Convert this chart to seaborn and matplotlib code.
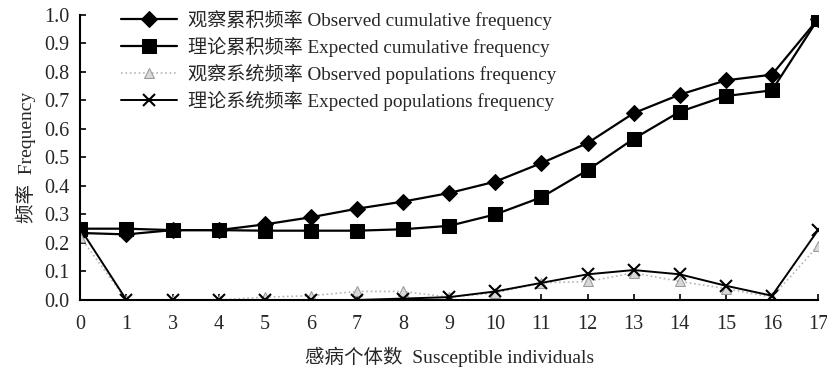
import numpy as np
import pandas as pd
import matplotlib
matplotlib.use("Agg")
from matplotlib import pyplot as plt
import seaborn as sns

# x categories (note: no "2" in the original)
individuals = ["0", "1", "3", "4", "5", "6", "7", "8", "9", "10", "11",
               "12", "13", "14", "15", "16", "17"]
obs_cum = [0.235, 0.23, 0.245, 0.245, 0.265, 0.29, 0.32, 0.345, 0.375, 0.415,
           0.48, 0.55, 0.655, 0.72, 0.77, 0.79, 0.985]
exp_cum = [0.25, 0.25, 0.245, 0.245, 0.243, 0.243, 0.243, 0.248, 0.26, 0.30,
           0.36, 0.455, 0.565, 0.66, 0.715, 0.735, 0.985]
obs_pop = [0.22, 0.0, 0.0, 0.0, 0.01, 0.015, 0.03, 0.03, 0.01, 0.025,
           0.06, 0.065, 0.095, 0.065, 0.04, 0.01, 0.19]
exp_pop = [0.25, 0.0, 0.0, 0.0, 0.0, 0.0, 0.0, 0.005, 0.01, 0.03,
           0.06, 0.09, 0.105, 0.09, 0.05, 0.015, 0.245]

labels = [
    "观察累积频率 Observed cumulative frequency",
    "理论累积频率 Expected cumulative frequency",
    "观察系统频率 Observed populations frequency",
    "理论系统频率 Expected populations frequency",
]

sns.set_style("ticks")
plt.rcParams["font.family"] = ["Liberation Serif", "Noto Sans CJK SC"]
plt.rcParams["xtick.direction"] = "in"
plt.rcParams["ytick.direction"] = "in"

pos = np.arange(len(individuals))
df = pd.DataFrame({"pos": pos, "obs_cum": obs_cum, "exp_cum": exp_cum,
                   "obs_pop": obs_pop, "exp_pop": exp_pop})

fig, ax = plt.subplots(figsize=(8.28, 3.69), dpi=100)
fig.subplots_adjust(left=0.097, right=0.988, top=0.96, bottom=0.187)

sns.lineplot(data=df, x="pos", y="obs_cum", ax=ax, color="black", lw=1.6,
             marker="D", markersize=8, markeredgecolor="black", label=labels[0])
sns.lineplot(data=df, x="pos", y="exp_cum", ax=ax, color="black", lw=1.6,
             marker="s", markersize=10, markeredgecolor="black", label=labels[1])
sns.lineplot(data=df, x="pos", y="obs_pop", ax=ax, color="#b5b5b5", lw=1.2,
             linestyle=":", marker="^", markersize=7, markerfacecolor="#d8d8d8",
             markeredgecolor="#9a9a9a", label=labels[2])
sns.lineplot(data=df, x="pos", y="exp_pop", ax=ax, color="black", lw=1.4,
             marker="x", markersize=9, markeredgewidth=1.5,
             markeredgecolor="black", label=labels[3])

ax.set_xlim(0, len(individuals) - 1)
ax.set_ylim(0, 1.0)
ax.set_xticks(pos)
ax.set_xticklabels(individuals)
ax.set_yticks(np.arange(0, 1.01, 0.1))
ax.set_yticklabels([f"{v:.1f}" for v in np.arange(0, 1.01, 0.1)])
ax.tick_params(labelsize=14.5, length=4, width=1.2, color="black")
ax.tick_params(axis="x", pad=11)
ax.tick_params(axis="y", pad=8)

for side in ["top", "right"]:
    ax.spines[side].set_visible(False)
for side in ["left", "bottom"]:
    ax.spines[side].set_linewidth(1.5)
    ax.spines[side].set_color("black")

ax.set_xlabel("感病个体数  Susceptible individuals", fontsize=14, labelpad=9)
ax.set_ylabel("频率  Frequency", fontsize=14, labelpad=6)

leg = ax.legend(loc="upper left", bbox_to_anchor=(0.045, 1.045), frameon=False,
                fontsize=13.8, handlelength=2.9, handletextpad=0.6,
                labelspacing=0.36, borderaxespad=0)

fig.savefig("out.png", dpi=100)
